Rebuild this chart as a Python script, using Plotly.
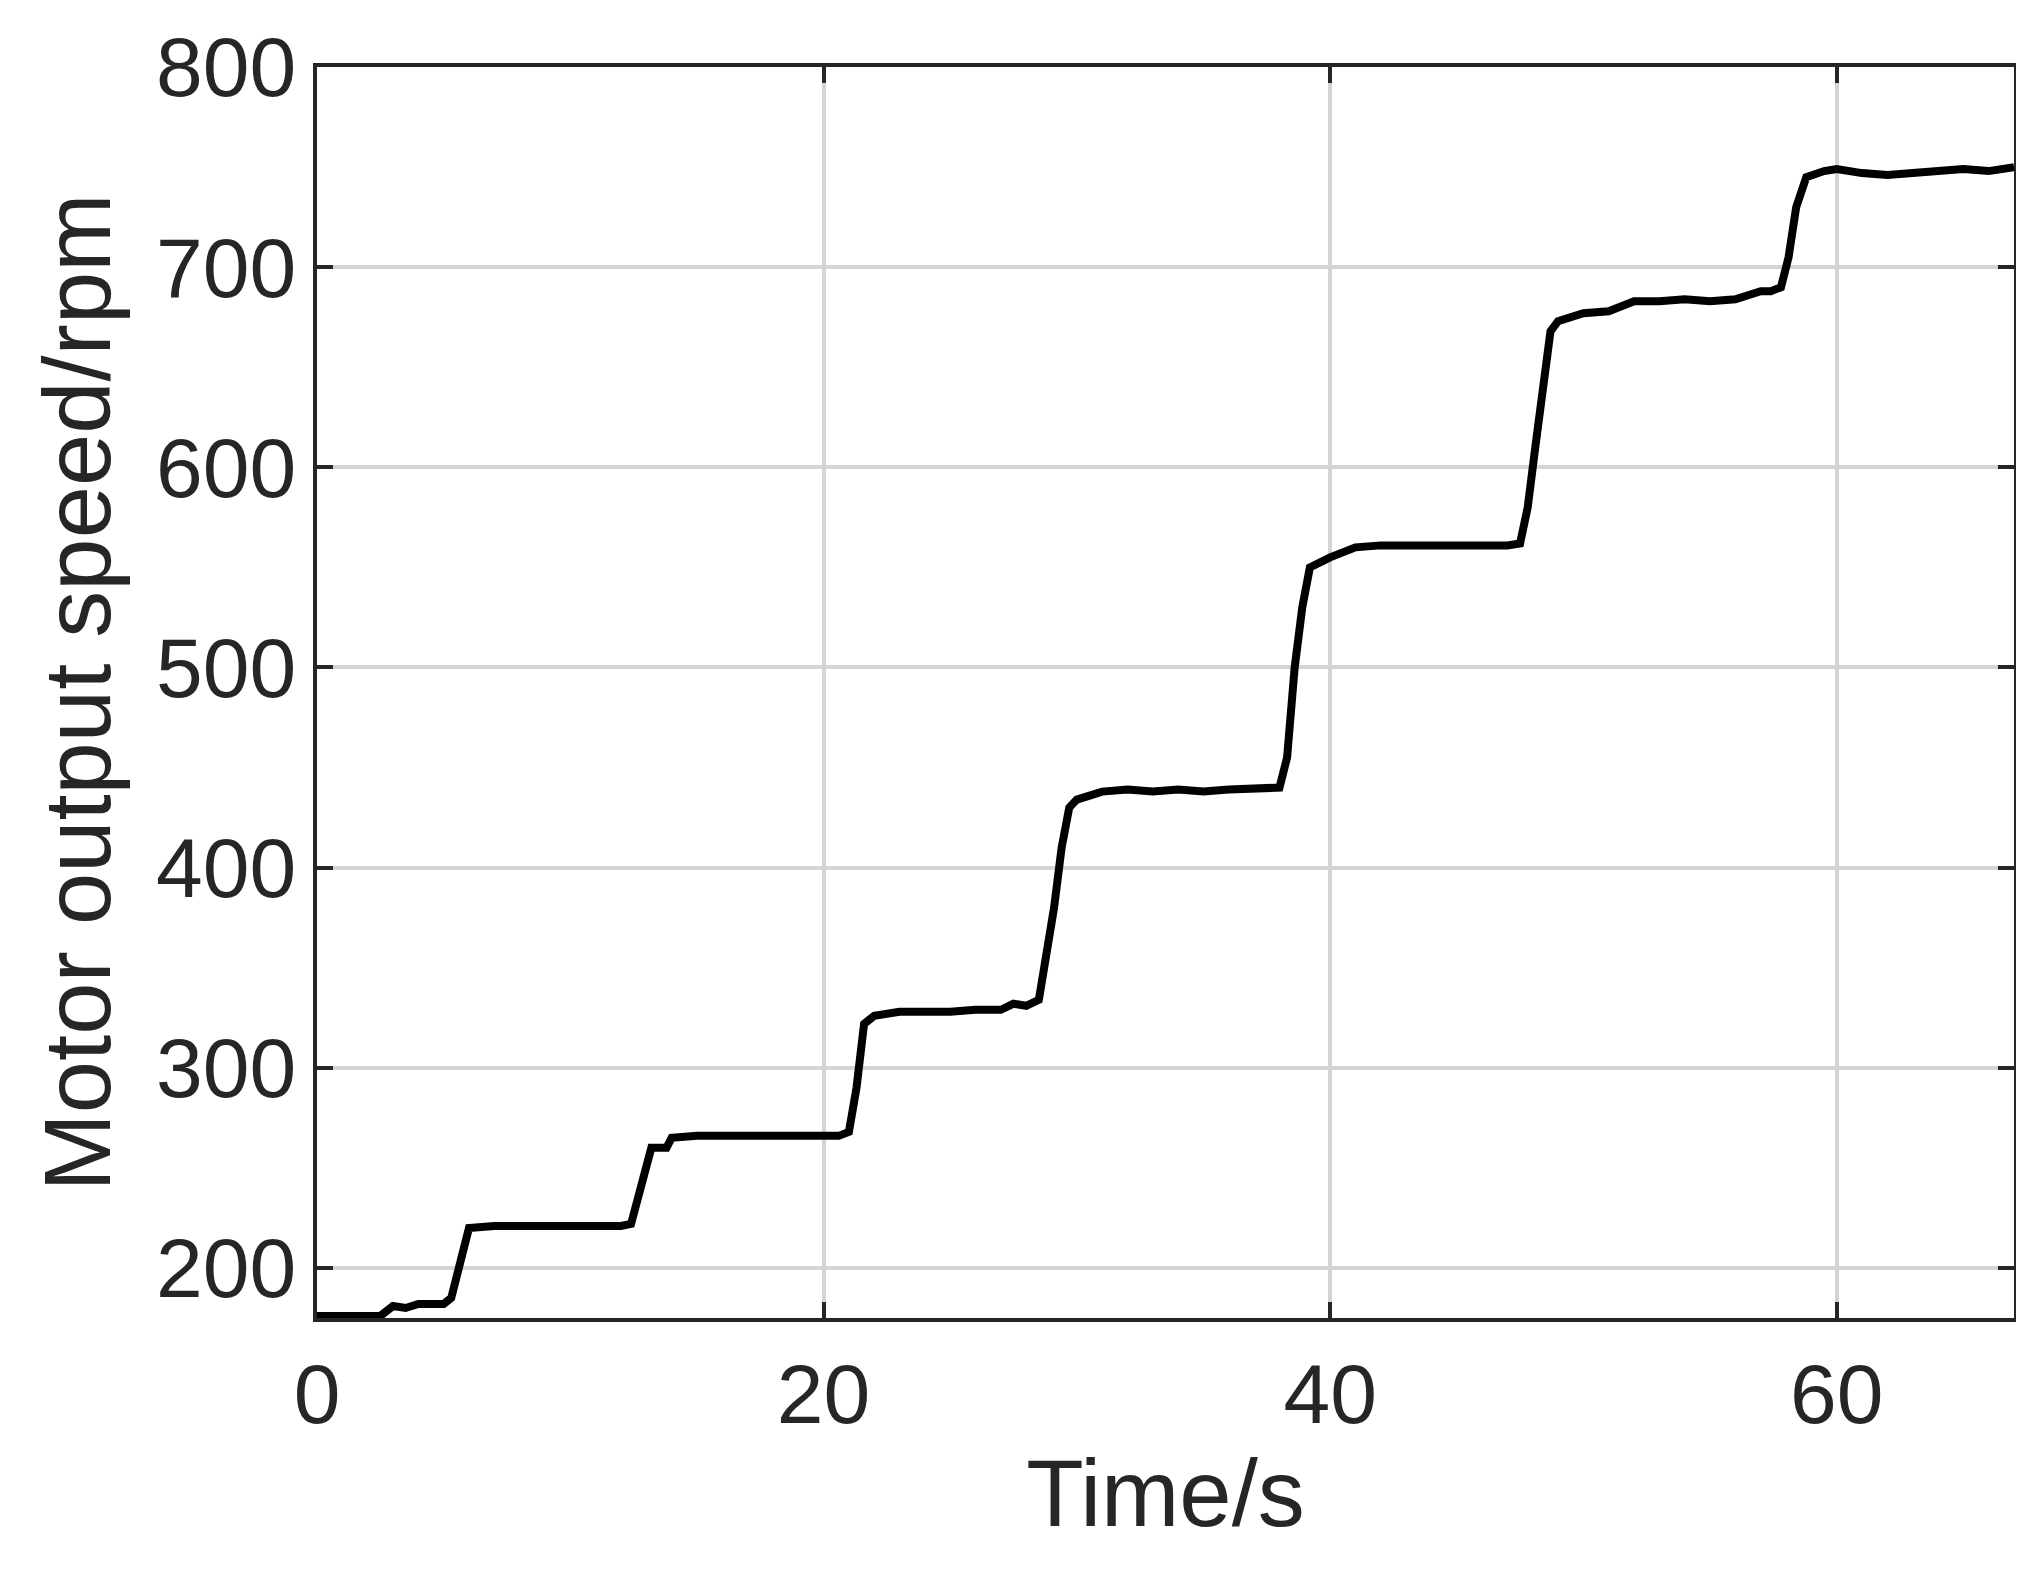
import plotly.graph_objects as go

time_s = [0, 1, 2, 2.5, 3, 3.5, 4, 5, 5.3, 5.6, 6, 7, 8, 9, 10, 11, 12, 12.4, 12.8, 13.2, 13.8, 14, 15, 16, 17, 18, 19, 20, 20.6, 21, 21.3, 21.6, 22, 23, 24, 25, 26, 27, 27.5, 28, 28.5, 28.8, 29.1, 29.4, 29.7, 30, 31, 32, 33, 34, 35, 36, 37, 38, 38.3, 38.6, 38.9, 39.2, 40, 41, 42, 43, 44, 45, 46, 47, 47.5, 47.8, 48.1, 48.4, 48.7, 49, 50, 51, 52, 53, 54, 55, 56, 57, 57.4, 57.8, 58.1, 58.4, 58.8, 59.5, 60, 61, 62, 63, 64, 65, 66, 67]
speed = [176, 176, 177, 176, 181, 180, 182, 182, 185, 200, 220, 221, 221, 220, 221, 221, 221, 222, 240, 260, 260, 265, 266, 266, 267, 266, 266, 266, 266, 268, 290, 322, 326, 328, 328, 328, 329, 329, 332, 331, 334, 355, 380, 410, 430, 434, 438, 439, 438, 439, 438, 439, 439, 440, 455, 500, 530, 550, 555, 560, 561, 561, 560, 561, 561, 561, 562, 580, 610, 640, 668, 673, 677, 678, 683, 683, 684, 683, 684, 688, 688, 690, 705, 730, 745, 748, 749, 747, 746, 747, 748, 749, 748, 750]

fig = go.Figure(go.Scatter(x=time_s, y=speed, mode="lines",
                           line=dict(color="black", width=8), showlegend=False))

ax = dict(showline=True, linecolor="#262626", linewidth=4, mirror="ticks",
          ticks="inside", ticklen=16, tickwidth=4, tickcolor="#262626",
          showgrid=True, gridcolor="#d4d4d4", gridwidth=4, zeroline=False,
          tickfont=dict(family="Liberation Sans", size=84, color="#262626"))

fig.update_xaxes(range=[0, 67], tickvals=[0, 20, 40, 60], **ax,
                 title=dict(text="Time/s", font=dict(family="Liberation Sans", size=94, color="#262626"), standoff=20))
fig.update_yaxes(range=[175, 800], tickvals=[200, 300, 400, 500, 600, 700, 800], **ax,
                 title=dict(text="Motor output speed/rpm", font=dict(family="Liberation Sans", size=94, color="#262626"), standoff=15))

fig.update_layout(width=2024, height=1580, margin=dict(l=309, r=18, t=55, b=270),
                  plot_bgcolor="white", paper_bgcolor="white")
fig.write_html("out.html")
